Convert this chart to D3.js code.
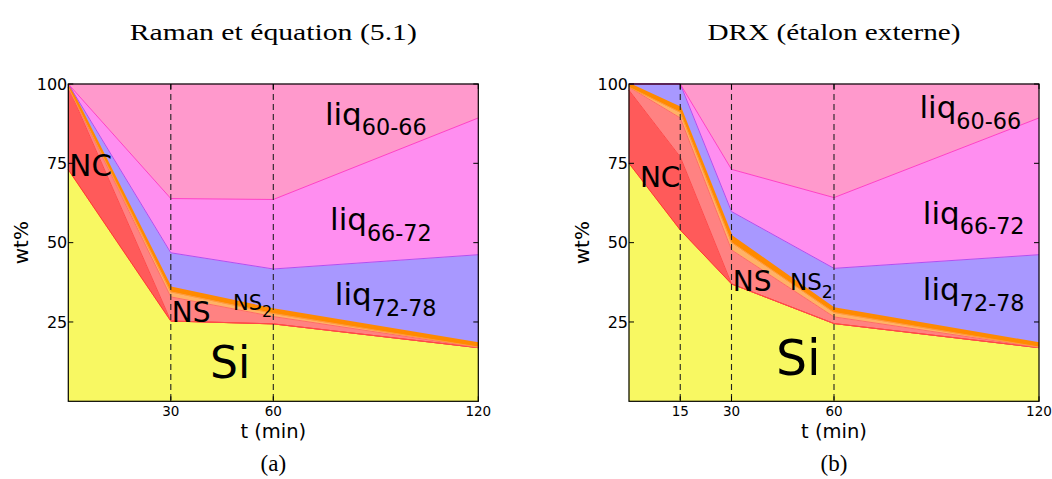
<!DOCTYPE html>
<html><head><meta charset="utf-8">
<script src="https://cdn.jsdelivr.net/npm/d3@7"></script>
<style>body{margin:0;background:#fff}svg{display:block}</style>
</head><body>
<svg id="c" width="1052" height="479"></svg>
<script>
// ---- data ----
const layerNames = ["Si","NC","NS","NS2","Or","liq72-78","liq66-72","liq60-66"];
// panel (a) Raman
const tA      = [0, 30, 60, 120];
const siA     = [73, 25.3, 24.4, 16.9];
const ncA     = [26, 0, 0, 0];
const nsA     = [0, 7.6, 2.3, 0.1];
const ns2A    = [0, 1.6, 1.0, 0.1];
const orA     = [1, 1.4, 1.3, 1.2];
const l7278A  = [0, 10.9, 12.7, 27.9];
const l6672A  = [0, 17.1, 21.9, 43.1];
const l6066A  = [0, 36.1, 36.4, 10.7];
// panel (b) DRX
const tB      = [0, 15, 30, 60, 120];
const siB     = [75, 54, 37, 24.5, 16.9];
const ncB     = [23, 23, 0, 0, 0];
const nsB     = [1, 12.3, 10.7, 2.1, 0.1];
const ns2B    = [0, 1.8, 2.4, 1.4, 0.1];
const orB     = [1, 1.5, 2.0, 1.3, 1.2];
const l7278B  = [0, 7.4, 7.7, 12.6, 27.9];
const l6672B  = [0, 0, 13.3, 22.3, 43.1];
const l6066B  = [0, 0, 26.9, 35.8, 10.7];

const yTicks = [25, 50, 75, 100];
const xTicksA = [30, 60, 120];
const xTicksB = [15, 30, 60, 120];
const dashA = [30, 60];
const dashB = [15, 30, 60];
const titles = ["Raman et équation (5.1)", "DRX (étalon externe)"];
const captions = ["(a)", "(b)"];

const fills   = ["#f8f862","#ff5a5a","#ff8282","#ffb266","#ff8a00","#a898ff","#ff8ef0","#ff99cc"];
const strokes = ["#ff3a2a","#ff4a4a","#ff6a6a","#ff9a40","#ff8a00","#b050f0","#ff40c8","#ff99cc"];

const svg = d3.select("#c");
const FONT = "DejaVu Sans, sans-serif";

function panel(opt){
  const x = d3.scaleLinear().domain([0,120]).range([opt.x0, opt.x0+410]);
  const y = d3.scaleLinear().domain([0,100]).range([401.3, 84]);
  const g = svg.append("g");
  const rows = opt.t.map((t,i)=>{
    const r = {t};
    layerNames.forEach((n,k)=> r[n] = opt.series[k][i]);
    return r;
  });
  const stack = d3.stack().keys(layerNames)(rows);
  const area = d3.area().x(d=>x(d.data.t)).y0(d=>y(d[0])).y1(d=>y(d[1]));
  const line = d3.line().x(d=>x(d.data.t)).y(d=>y(d[1]));
  g.selectAll("path.a").data(stack).join("path")
    .attr("d", area).attr("fill",(d,i)=>fills[i]).attr("stroke",(d,i)=>fills[i]).attr("stroke-width",0.5);
  // top edge lines
  g.selectAll("path.l").data(stack.slice(0,7)).join("path")
    .attr("d", line).attr("fill","none").attr("stroke",(d,i)=>strokes[i])
    .attr("stroke-width",(d,i)=> i===4 ? 2 : 1);
  // dashed lines
  g.selectAll("line.d").data(opt.dash).join("line")
    .attr("x1",d=>x(d)).attr("x2",d=>x(d)).attr("y1",y(100)).attr("y2",y(0))
    .attr("stroke","#222").attr("stroke-width",1.1).attr("stroke-dasharray","6,4");
  // frame
  g.append("rect").attr("x",x(0)).attr("y",y(100)).attr("width",x(120)-x(0)).attr("height",y(0)-y(100))
    .attr("fill","none").attr("stroke","#000").attr("stroke-width",1.2);
  // ticks
  yTicks.forEach(v=>{
    g.append("line").attr("x1",x(0)).attr("x2",x(0)+5).attr("y1",y(v)).attr("y2",y(v)).attr("stroke","#000");
    g.append("line").attr("x1",x(120)).attr("x2",x(120)-5).attr("y1",y(v)).attr("y2",y(v)).attr("stroke","#000");
    g.append("text").attr("x",x(0)-1).attr("y",y(v)).attr("dy","0.36em").attr("text-anchor","end")
      .attr("font-family",FONT).attr("font-size",16).text(v);
  });
  opt.xTicks.forEach(v=>{
    g.append("line").attr("x1",x(v)).attr("x2",x(v)).attr("y1",y(0)).attr("y2",y(0)-5).attr("stroke","#000");
    g.append("line").attr("x1",x(v)).attr("x2",x(v)).attr("y1",y(100)).attr("y2",y(100)+5).attr("stroke","#000");
    g.append("text").attr("x",x(v)).attr("y",y(0)+14.5).attr("text-anchor","middle")
      .attr("font-family",FONT).attr("font-size",13.5).text(v);
  });
  // axis labels
  const cx = (x(0)+x(120))/2;
  g.append("text").attr("x",cx).attr("y",438).attr("text-anchor","middle")
    .attr("font-family",FONT).attr("font-size",19.5).text("t (min)");
  g.append("text").attr("transform",`translate(${x(0)-40},${y(50)}) rotate(-90)`).attr("text-anchor","middle")
    .attr("font-family",FONT).attr("font-size",20).text("wt%");
  g.append("text").attr("x",cx).attr("y",40).attr("text-anchor","middle")
    .attr("font-family","Liberation Serif, serif").attr("font-size",23)
    .attr("textLength",opt.titleLen).attr("lengthAdjust","spacingAndGlyphs").text(opt.title);
  g.append("text").attr("x",cx).attr("y",471).attr("text-anchor","middle")
    .attr("font-family","Liberation Serif, serif").attr("font-size",23).text(opt.caption);
  // region labels
  opt.labels.forEach(l=>{
    const t = g.append("text").attr("x",x(l.t)).attr("y",y(l.v))
      .attr("font-family",FONT).attr("font-size",l.fs).attr("fill","#000");
    t.append("tspan").text(l.main);
    if(l.sub){
      t.append("tspan").attr("dy",l.fs*0.35).attr("font-size",l.fs*l.subScale).text(l.sub);
    }
  });
}

panel({x0:68.3, t:tA, series:[siA,ncA,nsA,ns2A,orA,l7278A,l6672A,l6066A], dash:dashA, xTicks:xTicksA,
  title:titles[0], caption:captions[0], titleLen:287,
  labels:[
    {t:0.3, v:71, fs:29.5, main:"NC"},
    {t:30.3, v:25, fs:28, main:"NS"},
    {t:48.2, v:28.8, fs:21, main:"NS", sub:"2", subScale:0.75},
    {t:41.5, v:7.4, fs:44, main:"Si"},
    {t:75.1, v:87.2, fs:31, main:"liq", sub:"60-66", subScale:0.72},
    {t:76.6, v:54, fs:31, main:"liq", sub:"66-72", subScale:0.72},
    {t:78, v:30.4, fs:31, main:"liq", sub:"72-78", subScale:0.72}
  ]});
panel({x0:629, t:tB, series:[siB,ncB,nsB,ns2B,orB,l7278B,l6672B,l6066B], dash:dashB, xTicks:xTicksB,
  title:titles[1], caption:captions[1], titleLen:253,
  labels:[
    {t:3.2, v:67.6, fs:28, main:"NC"},
    {t:30.4, v:34.8, fs:28, main:"NS"},
    {t:47.1, v:35.1, fs:23, main:"NS", sub:"2", subScale:0.75},
    {t:43, v:8.3, fs:49, main:"Si"},
    {t:85, v:89.3, fs:31, main:"liq", sub:"60-66", subScale:0.72},
    {t:86, v:56, fs:31, main:"liq", sub:"66-72", subScale:0.72},
    {t:86, v:32, fs:31, main:"liq", sub:"72-78", subScale:0.72}
  ]});
</script>
</body></html>
